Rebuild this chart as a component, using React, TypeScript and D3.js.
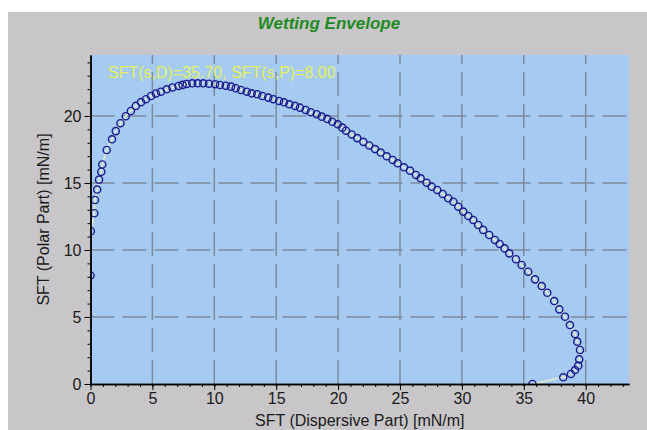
import React, { useEffect, useRef } from 'react';
import * as d3 from 'd3';

const chartTitle = 'Wetting Envelope';
const noteText = 'SFT(s,D)=35.70, SFT(s,P)=8.00';
const xLabel = 'SFT (Dispersive Part) [mN/m]';
const yLabel = 'SFT (Polar Part) [mN/m]';

const xTicks = [0, 5, 10, 15, 20, 25, 30, 35, 40];
const yTicks = [0, 5, 10, 15, 20];

// envelope points, dispersive part (x)
const sftD = [
  0.0, 0.03, 0.31, 0.36, 0.54, 0.69, 0.87, 0.95, 1.31, 1.74,
  2.04, 2.42, 2.85, 3.26, 3.66, 4.08, 4.48, 4.89, 5.29, 5.69,
  6.16, 6.62, 7.11, 7.44, 7.77, 8.22, 8.66, 9.11, 9.57, 10.06,
  10.46, 10.92, 11.35, 11.73, 12.16, 12.62, 13.02, 13.47, 13.88, 14.36,
  14.77, 15.23, 15.63, 16.06, 16.52, 16.92, 17.38, 17.79, 18.27, 18.68,
  19.13, 19.53, 19.97, 20.34, 20.64, 21.1, 21.55, 22.04, 22.52, 22.98,
  23.44, 23.93, 24.41, 24.81, 25.32, 25.81, 26.29, 26.67, 27.16, 27.56,
  28.01, 28.45, 28.9, 29.31, 29.71, 30.11, 30.52, 30.92, 31.32, 31.72,
  32.21, 32.67, 33.05, 33.45, 33.83, 34.37, 34.83, 35.36, 35.91, 36.45,
  36.9, 37.46, 37.87, 38.33, 38.73, 39.14, 39.32, 39.54, 39.48, 39.4,
  39.14, 38.81, 38.19, 35.7,
];

// envelope points, polar part (y)
const sftP = [
  8.1, 11.4, 12.74, 13.73, 14.51, 15.25, 15.84, 16.38, 17.46, 18.26,
  18.87, 19.46, 19.98, 20.37, 20.75, 21.03, 21.25, 21.49, 21.68, 21.81,
  21.99, 22.13, 22.24, 22.32, 22.39, 22.44, 22.44, 22.44, 22.41, 22.37,
  22.31, 22.26, 22.19, 22.07, 21.94, 21.81, 21.69, 21.62, 21.49, 21.37,
  21.25, 21.12, 21.02, 20.87, 20.75, 20.62, 20.45, 20.28, 20.13, 19.95,
  19.78, 19.57, 19.38, 19.13, 18.9, 18.62, 18.35, 18.07, 17.8, 17.53,
  17.27, 16.99, 16.72, 16.47, 16.17, 15.92, 15.6, 15.35, 15.02, 14.72,
  14.48, 14.18, 13.86, 13.6, 13.23, 12.86, 12.54, 12.24, 11.87, 11.5,
  11.12, 10.75, 10.45, 10.12, 9.75, 9.31, 8.88, 8.38, 7.81, 7.31,
  6.81, 6.19, 5.57, 5.02, 4.4, 3.73, 3.16, 2.54, 1.84, 1.37,
  1.04, 0.75, 0.5, 0.0,
];

const FONT = "Arial, 'Liberation Sans', sans-serif";

const App = () => {
  const svgRef = useRef<SVGSVGElement>(null);

  useEffect(() => {
    const svg = d3.select(svgRef.current);
    svg.selectAll('*').remove();

    const left = 90.5, right = 629, top = 55, bottom = 384;

    const x = d3.scaleLinear().domain([0, 43.5]).range([left, right]);
    const y = d3.scaleLinear().domain([0, 24.55]).range([bottom, top]);

    // panel + plot background
    svg.append('rect')
      .attr('x', 8).attr('y', 12).attr('width', 639).attr('height', 418)
      .attr('fill', '#c8c6c8');
    svg.append('rect')
      .attr('x', left).attr('y', top).attr('width', right - left).attr('height', bottom - top)
      .attr('fill', '#a6cbf3');

    svg.append('clipPath').attr('id', 'plotClip')
      .append('rect')
      .attr('x', left).attr('y', top).attr('width', right - left).attr('height', bottom - top);

    // grid
    svg.selectAll('.vgrid')
      .data(xTicks.filter(d => d > 0))
      .enter()
      .append('line')
      .attr('x1', d => x(d)).attr('x2', d => x(d))
      .attr('y1', bottom).attr('y2', top)
      .attr('stroke', '#7f8b99')
      .attr('stroke-width', 1.5)
      .attr('stroke-dasharray', '24 8');

    svg.selectAll('.hgrid')
      .data(yTicks.filter(d => d > 0))
      .enter()
      .append('line')
      .attr('x1', left).attr('x2', right)
      .attr('y1', d => y(d)).attr('y2', d => y(d))
      .attr('stroke', '#7f8b99')
      .attr('stroke-width', 1.5)
      .attr('stroke-dasharray', '24 8');

    const pts = sftD.map((d, i) => [d, sftP[i]]);
    const plotG = svg.append('g').attr('clip-path', 'url(#plotClip)');

    // faint connecting line
    plotG.append('path')
      .datum(pts)
      .attr('d', d3.line().x(d => x(d[0])).y(d => y(d[1])))
      .attr('fill', 'none')
      .attr('stroke', '#e4ecc8')
      .attr('stroke-width', 1.5);

    plotG.selectAll('circle')
      .data(pts)
      .enter()
      .append('circle')
      .attr('cx', d => x(d[0]))
      .attr('cy', d => y(d[1]))
      .attr('r', 3.6)
      .attr('fill', 'none')
      .attr('stroke', '#1b1b8e')
      .attr('stroke-width', 1.4);

    // axes
    const minorX = d3.range(0, 44);
    const minorY = d3.range(0, 25);

    const styleAxis = g => {
      g.select('.domain').attr('stroke', '#000').attr('stroke-width', 1.5);
      g.selectAll('line').attr('stroke', '#000');
      g.selectAll('text')
        .attr('font-family', FONT)
        .attr('font-size', 16)
        .attr('fill', '#1a1a1a');
    };

    svg.append('g')
      .attr('transform', `translate(0,${bottom})`)
      .call(d3.axisBottom(x).tickValues(minorX).tickSize(3).tickSizeOuter(0).tickFormat(() => ''))
      .call(styleAxis);
    svg.append('g')
      .attr('transform', `translate(0,${bottom})`)
      .call(d3.axisBottom(x).tickValues(xTicks).tickSize(6).tickSizeOuter(0).tickFormat(d3.format('d')))
      .call(styleAxis);

    svg.append('g')
      .attr('transform', `translate(${left},0)`)
      .call(d3.axisLeft(y).tickValues(minorY).tickSize(3).tickSizeOuter(0).tickFormat(() => ''))
      .call(styleAxis);
    svg.append('g')
      .attr('transform', `translate(${left},0)`)
      .call(d3.axisLeft(y).tickValues(yTicks).tickSize(6).tickSizeOuter(0).tickFormat(d3.format('d')))
      .call(styleAxis);

    // texts
    svg.append('text')
      .attr('x', 329).attr('y', 29)
      .attr('text-anchor', 'middle')
      .attr('font-family', FONT)
      .attr('font-size', 17)
      .attr('font-weight', 'bold')
      .attr('font-style', 'italic')
      .attr('fill', '#1f8a1f')
      .text(chartTitle);

    svg.append('text')
      .attr('x', 108).attr('y', 78)
      .attr('font-family', FONT)
      .attr('font-size', 16)
      .attr('fill', '#e4f060')
      .text(noteText);

    svg.append('text')
      .attr('x', (left + right) / 2).attr('y', 426)
      .attr('text-anchor', 'middle')
      .attr('font-family', FONT)
      .attr('font-size', 16)
      .attr('fill', '#1a1a1a')
      .text(xLabel);

    svg.append('text')
      .attr('transform', `translate(48.5,${(top + bottom) / 2}) rotate(-90)`)
      .attr('text-anchor', 'middle')
      .attr('font-family', FONT)
      .attr('font-size', 16)
      .attr('fill', '#1a1a1a')
      .text(yLabel);
  }, []);

  return (
    <svg
      ref={svgRef}
      width={647}
      height={430}
      style={{ position: 'fixed', left: 0, top: 0, display: 'block' }}
    ></svg>
  );
};

export default App;
